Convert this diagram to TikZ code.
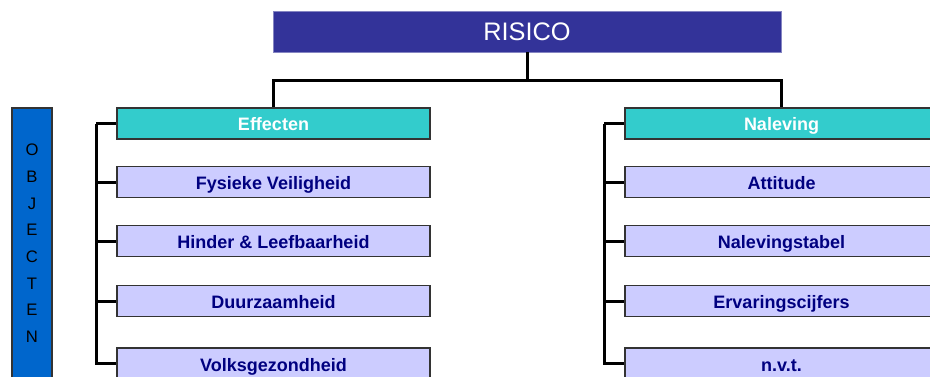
\documentclass[tikz,border=0pt]{standalone}
\usepackage{fontspec}
\setmainfont{Liberation Sans}

\definecolor{risicoblue}{HTML}{333399}
\definecolor{headteal}{HTML}{33CCCC}
\definecolor{itemlilac}{HTML}{CCCCFF}
\definecolor{itemnavy}{HTML}{000080}
\definecolor{barblue}{HTML}{0066CC}

\begin{document}
\begin{tikzpicture}[x=0.75pt, y=-0.75pt,
    topbox/.style={fill=risicoblue, draw=risicoblue!60!white, line width=0.6pt, text=white,
        minimum width=381pt, minimum height=30.75pt, inner sep=0pt, font=\fontsize{19}{22}\selectfont},
    headbox/.style={fill=headteal, draw=black!80, line width=1.1pt, text=white,
        minimum width=234.75pt, minimum height=23.25pt, inner sep=0pt, text height=11pt, text depth=0pt,
        font=\bfseries\fontsize{13.5}{16}\selectfont},
    itembox/.style={fill=itemlilac, draw=black!80, line width=1.1pt, text=itemnavy,
        minimum width=234.75pt, minimum height=23.25pt, inner sep=0pt, text height=11.4pt, text depth=0pt,
        font=\bfseries\fontsize{13.5}{16}\selectfont},
    link/.style={draw=black, line width=2.25pt}]
    \useasboundingbox (0,0) rectangle (930,376);
    \clip (0,0) rectangle (930,376);

    % Top box
    \node[topbox] (risico) at (527,31.5) {RISICO};

    % Side bar
    \node[fill=barblue, draw=black!80, line width=1.1pt, minimum width=30pt, minimum height=203.25pt,
        inner sep=0pt, align=center, font=\fontsize{12.5}{20}\selectfont] (objecten) at (32,243.5)
        {O\\B\\J\\E\\C\\T\\E\\N};

    % Left column
    \node[headbox] (effecten) at (273.5,123.5) {Effecten};
    \node[itembox] (fysiek)   at (273.5,182) {Fysieke Veiligheid};
    \node[itembox] (hinder)   at (273.5,241) {Hinder \& Leefbaarheid};
    \node[itembox] (duurzaam) at (273.5,301) {Duurzaamheid};
    \node[itembox] (volks)    at (273.5,363.5) {Volksgezondheid};

    % Right column
    \node[headbox] (naleving) at (781.5,123.5) {Naleving};
    \node[itembox] (attitude) at (781.5,182) {Attitude};
    \node[itembox] (tabel)    at (781.5,241) {Nalevingstabel};
    \node[itembox] (cijfers)  at (781.5,301) {Ervaringscijfers};
    \node[itembox] (nvt)      at (781.5,363.5) {n.v.t.};

    % Links
    \draw[link] (risico.south) -- ++(0,28) -| (effecten.north);
    \draw[link] (risico.south) -- ++(0,28) -| (naleving.north);
    \foreach \n in {fysiek,hinder,duurzaam,volks} {
        \draw[link] (effecten.west) ++(-20,0) |- (\n.west);
    }
    \draw[link] (effecten.west) -- ++(-20,0);
    \foreach \n in {attitude,tabel,cijfers,nvt} {
        \draw[link] (naleving.west) ++(-20,0) |- (\n.west);
    }
    \draw[link] (naleving.west) -- ++(-20,0);
\end{tikzpicture}
\end{document}
